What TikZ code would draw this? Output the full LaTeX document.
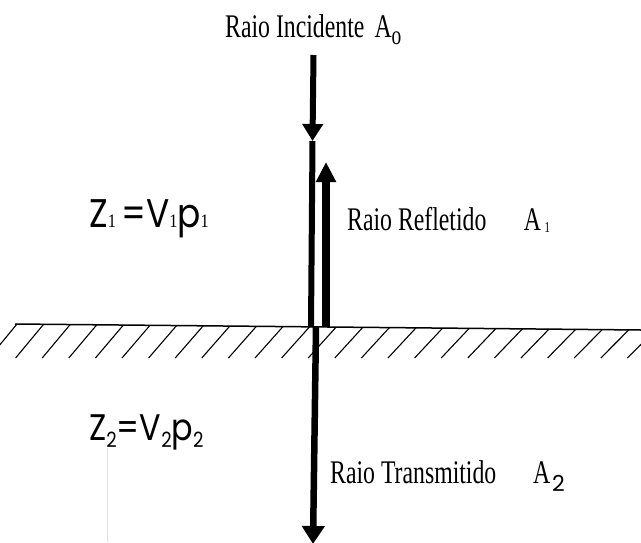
\documentclass[tikz,border=0pt]{standalone}
\usepackage{fontspec}
\usepackage{graphicx}
\setmainfont{Liberation Serif}
\newfontfamily\geo{Poppins}
\usetikzlibrary{arrows.meta}

\newcommand{\cnd}[1]{\scalebox{0.72}[1]{#1}}
\newcommand{\nrw}[1]{\scalebox{0.86}[1]{#1}}
\newcommand{\lowone}{{\rmfamily\fontsize{19}{19}\selectfont 1}}
\newcommand{\lowtwo}{\raisebox{-7pt}{\fontsize{21}{21}\selectfont 2}}

\begin{document}
\begin{tikzpicture}[
  x=1pt,y=-1pt,
  ray/.style={line width=6pt},
  caption/.style={anchor=base west,inner sep=0pt,font=\fontsize{33}{36}\selectfont},
  imp/.style={anchor=base west,inner sep=0pt,font=\geo\fontsize{40}{44}\selectfont},
  hatch/.style={line width=1.1pt}
]
  \useasboundingbox (0,0) rectangle (641,542);
  \clip (0,0) rectangle (641,542);

  % interface and hatching
  \coordinate (surfL) at (15,324);
  \coordinate (surfR) at (641,330);
  \draw[line width=1.5pt] (surfL) -- (surfR);
  \foreach \i in {0,...,24}{
    \pgfmathsetmacro\hx{17+26.6*\i}
    \pgfmathsetmacro\hy{324+6*(\hx-15)/626}
    \draw[hatch] (\hx,\hy) -- (\hx-28,358);
  }

  % rays
  \coordinate (incTop) at (313.5,55);
  \coordinate (incTip) at (312.5,141);
  \coordinate (hitL) at (311,327);
  \coordinate (refBase) at (326,327);
  \coordinate (refTip) at (326,162);
  \coordinate (trBase) at (316,327);
  \coordinate (trTip) at (313,544);

  \draw[ray,-{Triangle[length=17pt,width=20pt]}] (incTop) -- (incTip);
  \draw[ray] (incTip) -- (hitL);
  \draw[ray,line width=8pt,-{Triangle[length=20pt,width=19pt]}] (refBase) -- (refTip);
  \draw[ray,line width=6.5pt,-{Triangle[length=18pt,width=22pt]}] (trBase) -- (trTip);

  % faint mark
  \coordinate (markTop) at (107,448);
  \coordinate (markBot) at (107,542);
  \draw[black!10,line width=.8pt] (markTop) -- (markBot);

  % labels
  \node[caption] (incLbl) at (225,37)
    {\cnd{Raio Incidente\hspace{14pt}A\raisebox{-7pt}{\fontsize{27}{27}\selectfont o}}};
  \node[caption] (refLbl) at (347,230)
    {\cnd{Raio Refletido\hspace{52pt}A\hspace{5pt}\raisebox{-2pt}{\fontsize{15}{15}\selectfont 1}}};
  \node[caption] (trLbl) at (330,483)
    {\cnd{Raio Transmitido\hspace{51pt}A}\hspace{2pt}\raisebox{-8pt}{\geo\fontsize{22}{22}\selectfont 2}};
  \node[imp] (zOne) at (89,227) {\nrw{Z\lowone\hspace{6pt}=V\lowone p\lowone}};
  \node[imp,font=\geo\fontsize{37}{40}\selectfont] (zTwo) at (89,440)
    {\nrw{Z\lowtwo=V\lowtwo p\lowtwo}};
\end{tikzpicture}
\end{document}
